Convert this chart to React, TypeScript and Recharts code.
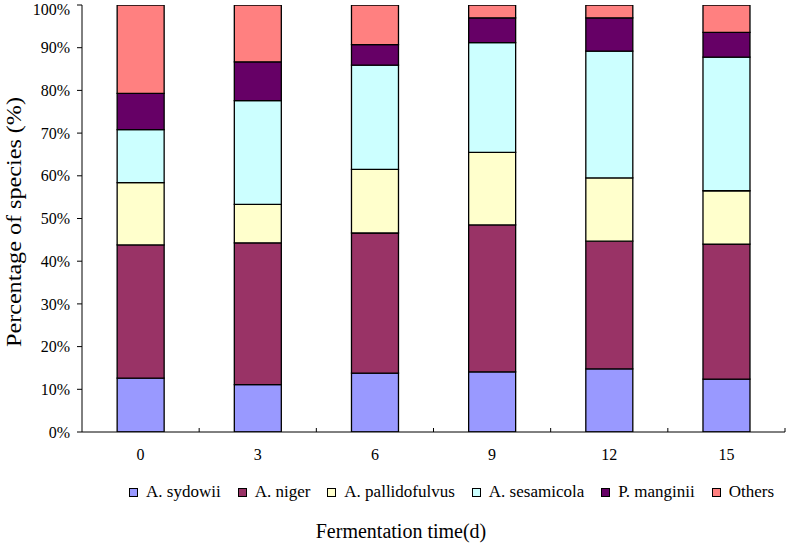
import React from 'react';
import { BarChart, Bar, XAxis, YAxis, Legend, Label } from 'recharts';

// Stacked species composition over fermentation time, Excel-era palette.
const SERIF = '"Liberation Serif", "Times New Roman", serif';

const CATEGORIES = ['0', '3', '6', '9', '12', '15'];
const SYDOWII = [12.6, 11.1, 13.8, 14.1, 14.8, 12.4];
const NIGER = [31.2, 33.2, 32.8, 34.4, 29.9, 31.6];
const PALLIDO = [14.6, 9.0, 14.9, 17.0, 14.8, 12.5];
const SESAMICOLA = [12.4, 24.3, 24.4, 25.7, 29.7, 31.3];
const MANGINII = [8.5, 9.1, 4.8, 5.8, 7.8, 5.8];
const OTHERS = [20.7, 13.3, 9.3, 3.0, 3.0, 6.4];
const Y_TICKS = [0, 10, 20, 30, 40, 50, 60, 70, 80, 90, 100];

const SERIES = [
  { key: 'sydowii', name: 'A. sydowii', values: SYDOWII, color: '#9999FF' },
  { key: 'niger', name: 'A. niger', values: NIGER, color: '#993366' },
  { key: 'pallido', name: 'A. pallidofulvus', values: PALLIDO, color: '#FFFFCC' },
  { key: 'sesamicola', name: 'A. sesamicola', values: SESAMICOLA, color: '#CCFFFF' },
  { key: 'manginii', name: 'P. manginii', values: MANGINII, color: '#660066' },
  { key: 'others', name: 'Others', values: OTHERS, color: '#FF8080' },
];

const data = CATEGORIES.map((day, i) => {
  const row: Record<string, string | number> = { day };
  SERIES.forEach((s) => { row[s.key] = s.values[i]; });
  return row;
});

const W = 786;
const H = 543;
const MARGIN = { top: 5, right: 1, bottom: 81, left: 0 };
const Y_WIDTH = 82;
const BAND = (W - MARGIN.left - MARGIN.right - Y_WIDTH) / CATEGORIES.length;

// category label centred under the bar, small upward tick on the band boundary
function XTick(props: any) {
  const { x, y, payload } = props;
  return (
    <g>
      <text x={x} y={y + 28} textAnchor="middle" fontSize={16} fontFamily={SERIF} fill="#000">
        {payload.value}
      </text>
      <line x1={x + BAND / 2} x2={x + BAND / 2} y1={y} y2={y - 4} stroke="#000" strokeWidth={1} />
    </g>
  );
}

const YTitle = () => (
  <text
    x={14}
    y={222}
    transform="rotate(-90 14 222)"
    textAnchor="middle"
    dominantBaseline="central"
    fontSize={20}
    fontFamily={SERIF}
    fill="#000"
    textLength={250}
    lengthAdjust="spacingAndGlyphs"
  >
    Percentage of species (%)
  </text>
);

const XTitle = () => (
  <text x={401} y={538} textAnchor="middle" fontSize={20} fontFamily={SERIF} fill="#000">
    Fermentation time(d)
  </text>
);

const LegendContent = () => (
  <div style={{ display: 'flex', alignItems: 'center', fontFamily: SERIF, fontSize: 17, color: '#000', whiteSpace: 'nowrap', lineHeight: '20px' }}>
    {SERIES.map((s) => (
      <span key={s.key} style={{ display: 'flex', alignItems: 'center', marginRight: 17 }}>
        <span style={{ width: 7, height: 7, border: '1px solid #000', background: s.color, marginRight: 8 }} />
        {s.name}
      </span>
    ))}
  </div>
);

export default function App() {
  return (
    <div style={{ position: 'absolute', left: 0, top: 0, width: W, height: H, background: '#fff' }}>
      <BarChart width={W} height={H} data={data} margin={MARGIN} barCategoryGap="30%">
        <XAxis
          dataKey="day"
          height={30}
          tick={<XTick />}
          tickLine={false}
          tickSize={0}
          tickMargin={0}
          axisLine={{ stroke: '#000', strokeWidth: 1 }}
          interval={0}
        >
          <Label content={<XTitle />} />
        </XAxis>
        <YAxis
          type="number"
          domain={[0, 100]}
          ticks={Y_TICKS}
          width={Y_WIDTH}
          tickFormatter={(v: number) => `${v}%`}
          tick={{ fontSize: 16, fontFamily: SERIF, fill: '#000' }}
          tickSize={5}
          tickMargin={7}
          tickLine={{ stroke: '#000' }}
          axisLine={{ stroke: '#000', strokeWidth: 1 }}
          allowDataOverflow
        >
          <Label content={<YTitle />} />
        </YAxis>
        <Legend
          layout="horizontal"
          verticalAlign="middle"
          align="center"
          content={<LegendContent />}
          wrapperStyle={{ left: 129, top: 482, width: 'auto', height: 'auto' }}
        />
        {SERIES.map((s) => (
          <Bar
            key={s.key}
            dataKey={s.key}
            name={s.name}
            stackId="a"
            fill={s.color}
            stroke="#000"
            strokeWidth={1.3}
            isAnimationActive={false}
          />
        ))}
      </BarChart>
    </div>
  );
}
